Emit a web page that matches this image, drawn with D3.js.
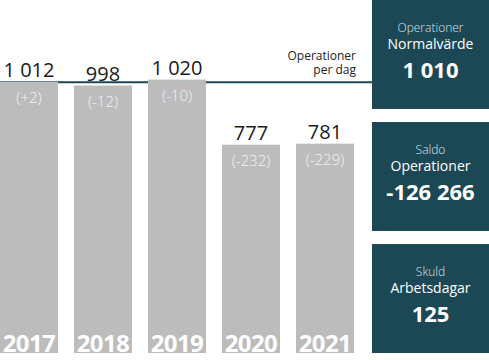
<!DOCTYPE html>
<html><head><meta charset="utf-8">
<script src="https://cdn.jsdelivr.net/npm/d3@7"></script>
<style>body{margin:0;background:#fff}svg{display:block;font-family:"Open Sans",sans-serif}</style>
</head><body><svg id="c" width="489" height="360"></svg>
<script>
const years = ["2017","2018","2019","2020","2021"];
const values = [1012, 998, 1020, 777, 781];
const changes = ["(+2)","(-12)","(-10)","(-232)","(-229)"];
const normalValue = 1010;
const lineLabel = ["Operationer","per dag"];
const boxSmall = ["Operationer","Saldo","Skuld"];
const boxMid = ["Normalvärde","Operationer","Arbetsdagar"];
const boxValues = ["1 010","-126 266","125"];

const fmt = v => d3.format(",")(v).replace(/,/g," ");
const teal = "#1c4856", grey = "#bcbcbc";
const svg = d3.select("#c");
const x = d3.scaleBand().domain(years).range([0,354]).paddingInner(0.2162).paddingOuter(0);
const y = d3.scaleLinear().domain([0,1317]).range([353,0]);

// reference line
svg.append("line").attr("x1",0).attr("x2",372).attr("y1",y(normalValue)).attr("y2",y(normalValue))
  .attr("stroke",teal).attr("stroke-width",2);
svg.append("text").attr("x",356).attr("y",60).attr("text-anchor","end").attr("font-size",12).attr("fill","#222").text(lineLabel[0]);
svg.append("text").attr("x",356).attr("y",74).attr("text-anchor","end").attr("font-size",12).attr("fill","#222").text(lineLabel[1]);

const g = svg.selectAll("g.bar").data(years).join("g").attr("class","bar");
g.append("rect").attr("x",d=>x(d)).attr("width",x.bandwidth())
  .attr("y",(d,i)=>y(values[i])).attr("height",(d,i)=>y(0)-y(values[i])).attr("fill",grey);
g.append("text").attr("x",d=>x(d)+x.bandwidth()/2).attr("y",(d,i)=>y(values[i])-5)
  .attr("text-anchor","middle").attr("font-size",20).attr("fill","#1a1a1a").text((d,i)=>fmt(values[i]));
g.append("text").attr("x",d=>x(d)+x.bandwidth()/2).attr("y",(d,i)=>y(values[i])+21)
  .attr("text-anchor","middle").attr("font-size",15).attr("font-weight",300).attr("fill","#f4f4f4").text((d,i)=>changes[i]);
g.append("text").attr("x",d=>x(d)+x.bandwidth()/2).attr("y",352)
  .attr("text-anchor","middle").attr("font-size",24).attr("font-weight","bold").attr("letter-spacing",-0.6)
  .attr("fill","#fff").text(d=>d);

// boxes
const boxY = d3.scaleBand().domain([0,1,2]).range([0,353]).paddingInner(0.107).paddingOuter(0);
const bx = 372, bw = 117, cx = bx + bw/2;
const b = svg.selectAll("g.box").data([0,1,2]).join("g").attr("class","box");
b.append("rect").attr("x",bx).attr("width",bw).attr("y",d=>boxY(d)).attr("height",boxY.bandwidth()).attr("fill",teal);
b.append("text").attr("x",cx).attr("y",d=>boxY(d)+32).attr("text-anchor","middle").attr("font-size",12).attr("font-weight",300).attr("fill","#dfe5e8").text(d=>boxSmall[d]);
b.append("text").attr("x",cx).attr("y",d=>boxY(d)+49).attr("text-anchor","middle").attr("font-size",14).attr("fill","#fff").text(d=>boxMid[d]);
b.append("text").attr("x",cx).attr("y",d=>boxY(d)+78).attr("text-anchor","middle").attr("font-size",22).attr("font-weight","bold").attr("fill","#fff").text(d=>boxValues[d]);
</script></body></html>
